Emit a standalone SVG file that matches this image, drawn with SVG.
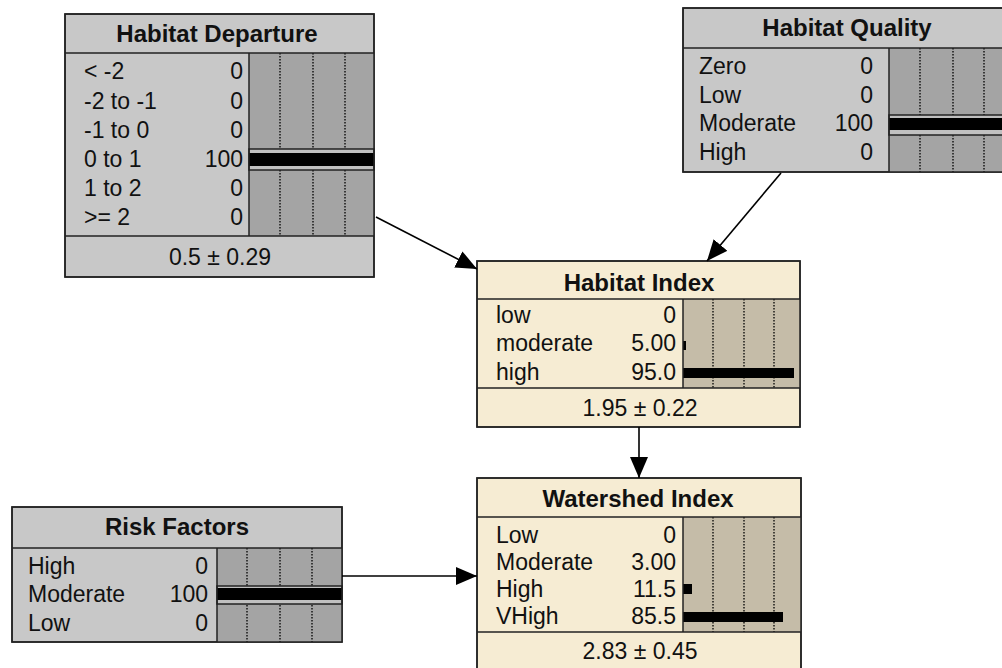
<svg xmlns="http://www.w3.org/2000/svg" width="1002" height="668" viewBox="0 0 1002 668">
  <style>
    .box { stroke: #222; stroke-width: 1.5; }
    .gray { fill: #c8c8c8; }
    .graybar { fill: #a4a4a4; }
    .tan { fill: #f6ecd3; }
    .tanbar { fill: #c5bca8; }
    .sep { stroke: #222; stroke-width: 1.5; fill: none; }
    .grid { stroke: #000; stroke-width: 1.3; stroke-dasharray: 1.5 1.5; }
    .title { font-family: "Liberation Sans", Arial, sans-serif; font-size: 24px; font-weight: bold; fill: #111; text-anchor: middle; }
    .lbl { font-family: "Liberation Sans", Arial, sans-serif; font-size: 23px; fill: #111; }
    .val { font-family: "Liberation Sans", Arial, sans-serif; font-size: 23px; fill: #111; text-anchor: end; }
    .foot { font-family: "Liberation Sans", Arial, sans-serif; font-size: 23px; fill: #111; text-anchor: middle; }
    .bar { fill: #000; }
    .finding { fill: #c0c0c0; stroke: #222; stroke-width: 1.5; }
    .link { stroke: #000; stroke-width: 1.6; fill: none; marker-end: url(#arrow); }
  </style>
  <defs>
    <marker id="arrow" markerUnits="userSpaceOnUse" markerWidth="22" markerHeight="18" refX="21" refY="9" orient="auto">
      <path d="M0,0 L21,9 L0,18 Z" fill="#000"/>
    </marker>
  </defs>

  <!-- Habitat Departure -->
  <g id="habitat-departure">
    <rect class="box gray" x="65" y="14" width="309" height="263"/>
    <rect class="graybar" x="249" y="53" width="125" height="183"/>
    <line class="grid" x1="280" y1="53" x2="280" y2="236"/>
    <line class="grid" x1="313" y1="53" x2="313" y2="236"/>
    <line class="grid" x1="345" y1="53" x2="345" y2="236"/>
    <rect class="finding" x="249" y="149" width="125" height="21"/>
    <rect class="bar" x="249" y="153" width="125" height="13"/>
    <line class="sep" x1="249" y1="53" x2="249" y2="236"/>
    <line class="sep" x1="65" y1="53" x2="374" y2="53"/>
    <line class="sep" x1="65" y1="236" x2="374" y2="236"/>
    <rect class="box" x="65" y="14" width="309" height="263" fill="none"/>
    <text class="title" x="217" y="42">Habitat Departure</text>
    <text class="lbl" x="84" y="79">&lt; -2</text><text class="val" x="243" y="79">0</text>
    <text class="lbl" x="84" y="109">-2 to -1</text><text class="val" x="243" y="109">0</text>
    <text class="lbl" x="84" y="138">-1 to 0</text><text class="val" x="243" y="138">0</text>
    <text class="lbl" x="84" y="167">0 to 1</text><text class="val" x="243" y="167">100</text>
    <text class="lbl" x="84" y="196">1 to 2</text><text class="val" x="243" y="196">0</text>
    <text class="lbl" x="84" y="225">&gt;= 2</text><text class="val" x="243" y="225">0</text>
    <text class="foot" x="220" y="265">0.5 ± 0.29</text>
  </g>

  <!-- Habitat Quality -->
  <g id="habitat-quality">
    <rect class="box gray" x="683" y="8" width="330" height="164"/>
    <rect class="graybar" x="889" y="48" width="124" height="124"/>
    <line class="grid" x1="920" y1="48" x2="920" y2="172"/>
    <line class="grid" x1="953" y1="48" x2="953" y2="172"/>
    <line class="grid" x1="984" y1="48" x2="984" y2="172"/>
    <rect class="finding" x="889" y="115" width="124" height="20"/>
    <rect class="bar" x="889" y="118" width="124" height="12"/>
    <line class="sep" x1="889" y1="48" x2="889" y2="172"/>
    <line class="sep" x1="683" y1="48" x2="1002" y2="48"/>
    <rect class="box" x="683" y="8" width="330" height="164" fill="none"/>
    <text class="title" x="847" y="36">Habitat Quality</text>
    <text class="lbl" x="699" y="74">Zero</text><text class="val" x="873" y="74">0</text>
    <text class="lbl" x="699" y="103">Low</text><text class="val" x="873" y="103">0</text>
    <text class="lbl" x="699" y="131">Moderate</text><text class="val" x="873" y="131">100</text>
    <text class="lbl" x="699" y="160">High</text><text class="val" x="873" y="160">0</text>
  </g>

  <!-- Habitat Index -->
  <g id="habitat-index">
    <rect class="box tan" x="477" y="261" width="323" height="166"/>
    <rect class="tanbar" x="683" y="299" width="117" height="89"/>
    <line class="grid" x1="713" y1="299" x2="713" y2="388"/>
    <line class="grid" x1="744" y1="299" x2="744" y2="388"/>
    <line class="grid" x1="774" y1="299" x2="774" y2="388"/>
    <rect class="bar" x="683" y="341" width="3" height="9"/>
    <rect class="bar" x="683" y="368" width="111" height="10"/>
    <line class="sep" x1="683" y1="299" x2="683" y2="388"/>
    <line class="sep" x1="477" y1="299" x2="800" y2="299"/>
    <line class="sep" x1="477" y1="388" x2="800" y2="388"/>
    <rect class="box" x="477" y="261" width="323" height="166" fill="none"/>
    <text class="title" x="639" y="291">Habitat Index</text>
    <text class="lbl" x="496" y="323">low</text><text class="val" x="676" y="323">0</text>
    <text class="lbl" x="496" y="351">moderate</text><text class="val" x="676" y="351">5.00</text>
    <text class="lbl" x="496" y="380">high</text><text class="val" x="676" y="380">95.0</text>
    <text class="foot" x="640" y="416">1.95 ± 0.22</text>
  </g>

  <!-- Watershed Index -->
  <g id="watershed-index">
    <rect class="box tan" x="477" y="478" width="324" height="200"/>
    <rect class="tanbar" x="683" y="517" width="118" height="115"/>
    <line class="grid" x1="713" y1="517" x2="713" y2="632"/>
    <line class="grid" x1="744" y1="517" x2="744" y2="632"/>
    <line class="grid" x1="774" y1="517" x2="774" y2="632"/>
    <rect class="bar" x="683" y="584" width="9" height="10"/>
    <rect class="bar" x="683" y="612" width="100" height="10"/>
    <line class="sep" x1="683" y1="517" x2="683" y2="632"/>
    <line class="sep" x1="477" y1="517" x2="801" y2="517"/>
    <line class="sep" x1="477" y1="632" x2="801" y2="632"/>
    <rect class="box" x="477" y="478" width="324" height="200" fill="none"/>
    <text class="title" x="638" y="507">Watershed Index</text>
    <text class="lbl" x="496" y="543">Low</text><text class="val" x="676" y="543">0</text>
    <text class="lbl" x="496" y="570">Moderate</text><text class="val" x="676" y="570">3.00</text>
    <text class="lbl" x="496" y="597">High</text><text class="val" x="676" y="597">11.5</text>
    <text class="lbl" x="496" y="624">VHigh</text><text class="val" x="676" y="624">85.5</text>
    <text class="foot" x="640" y="659">2.83 ± 0.45</text>
  </g>

  <!-- Risk Factors -->
  <g id="risk-factors">
    <rect class="box gray" x="12" y="507" width="330" height="135"/>
    <rect class="graybar" x="217" y="548" width="125" height="94"/>
    <line class="grid" x1="247" y1="548" x2="247" y2="642"/>
    <line class="grid" x1="280" y1="548" x2="280" y2="642"/>
    <line class="grid" x1="312" y1="548" x2="312" y2="642"/>
    <rect class="finding" x="217" y="586" width="125" height="18"/>
    <rect class="bar" x="217" y="588" width="125" height="12"/>
    <line class="sep" x1="217" y1="548" x2="217" y2="642"/>
    <line class="sep" x1="12" y1="548" x2="342" y2="548"/>
    <rect class="box" x="12" y="507" width="330" height="135" fill="none"/>
    <text class="title" x="177" y="535">Risk Factors</text>
    <text class="lbl" x="28" y="574">High</text><text class="val" x="208" y="574">0</text>
    <text class="lbl" x="28" y="602">Moderate</text><text class="val" x="208" y="602">100</text>
    <text class="lbl" x="28" y="631">Low</text><text class="val" x="208" y="631">0</text>
  </g>

  <!-- links -->
  <g id="connectors">
    <line class="link" x1="376" y1="217" x2="477" y2="269"/>
    <line class="link" x1="781" y1="173" x2="707" y2="261"/>
    <line class="link" x1="639" y1="427" x2="639" y2="478"/>
    <line class="link" x1="342" y1="576" x2="477" y2="576"/>
  </g>
</svg>
